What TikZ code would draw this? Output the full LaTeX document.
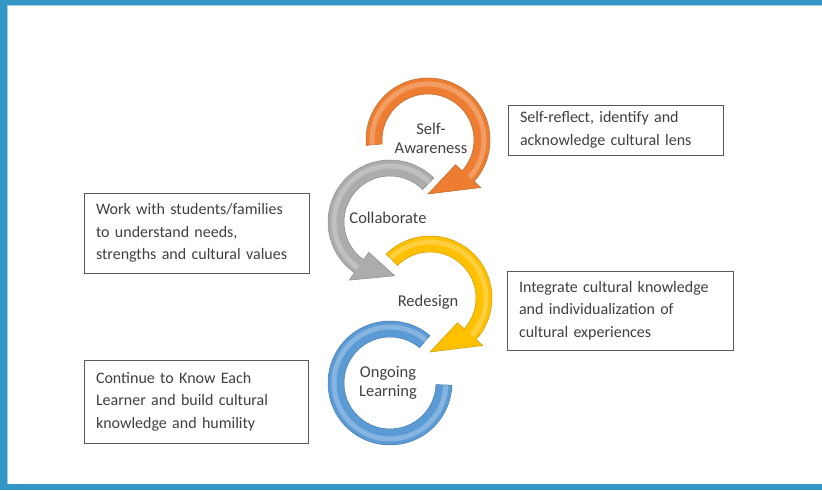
\documentclass[tikz,border=0pt]{standalone}
\usepackage{fontspec}
\setmainfont{Carlito}
\usepackage{tikz}
\usetikzlibrary{
    positioning,
    calc
}
\definecolor{frameBlue}{RGB}{52, 150, 197}
\definecolor{cycOrange}{RGB}{237, 125, 49}
\definecolor{cycGray}{RGB}{172, 172, 172}
\definecolor{cycYellow}{RGB}{255, 192, 0}
\definecolor{cycBlue}{RGB}{91, 155, 213}
\definecolor{textGray}{RGB}{64, 64, 64}

% center, tail angle, head base angle, tip angle, colour
\newcommand{\cyclearrow}[5]{%
    \path[fill=#5, draw=#5!80!black, line width=0.5pt]
        ($(#1)+(#2:62pt)$) arc[start angle=#2, end angle=#3, radius=62pt]
        -- ($(#1)+(#3:71pt)$) -- ($(#1)+(#4:54pt)$) -- ($(#1)+(#3:37pt)$)
        -- ($(#1)+(#3:46pt)$) arc[start angle=#3, end angle=#2, radius=46pt] -- cycle;
    \draw[white, opacity=0.25, line width=5pt]
        ($(#1)+(#2:56pt)$) arc[start angle=#2, end angle=#3, radius=56pt];
}
% center, tail angle, end angle, colour
\newcommand{\cycleband}[4]{%
    \path[fill=#4, draw=#4!80!black, line width=0.5pt]
        ($(#1)+(#2:62pt)$) arc[start angle=#2, end angle=#3, radius=62pt]
        -- ($(#1)+(#3:46pt)$) arc[start angle=#3, end angle=#2, radius=46pt] -- cycle;
    \draw[white, opacity=0.25, line width=5pt]
        ($(#1)+(#2:56pt)$) arc[start angle=#2, end angle=#3, radius=56pt];
}

\tikzset{
    infobox/.style={draw=gray!70!black, line width=0.8pt, fill=white, align=left,
        text=textGray, font=\fontsize{16}{22.5}\selectfont, inner xsep=12pt, inner ysep=0pt},
    cyclabel/.style={align=center, text=textGray, font=\fontsize{16.5}{19}\selectfont}
}

\begin{document}
\begin{tikzpicture}[x=1pt, y=1pt]
            \useasboundingbox (0, 0) rectangle (822, 490);

            % frame
            \fill[frameBlue] (0, 0) rectangle (822, 6);
            \fill[frameBlue] (0, 485) rectangle (822, 490);
            \fill[frameBlue] (0, 0) rectangle (7, 490);
            \fill[frameBlue!45] (7, 484) rectangle (822, 485);
            \fill[frameBlue!45] (7, 6) rectangle (8, 484);

            \coordinate (S) at (428, 350);
            \coordinate (C) at (390, 268);
            \coordinate (R) at (430, 192);
            \coordinate (L) at (390, 107);

            % cycle arrows
            \cycleband{L}{50}{358}{cycBlue}
            \cyclearrow{R}{135}{-42}{-90}{cycYellow}
            \cyclearrow{C}{45}{235}{275}{cycGray}
            \cyclearrow{S}{185}{-42}{-90}{cycOrange}

            \node[cyclabel] (self) at (431, 352) {Self-\\Awareness};
            \node[cyclabel] (collab) at (388, 272) {Collaborate};
            \node[cyclabel] (redesign) at (428, 188) {Redesign};
            \node[cyclabel] (ongoing) at (388, 107) {Ongoing\\Learning};

            % text boxes
            \node[infobox, text width=191pt, minimum height=50pt] (reflect) at (615.5, 360)
                {Self-reflect, identify and\\acknowledge cultural lens};
            \node[infobox, text width=201pt, minimum height=80pt] (families) at (196.5, 257)
                {Work with students/families\\to understand needs,\\strengths and cultural values};
            \node[infobox, text width=202pt, minimum height=79pt] (integrate) at (620, 179.5)
                {Integrate cultural knowledge\\and individualization of\\cultural experiences};
            \node[infobox, text width=200pt, minimum height=83pt] (learner) at (196, 88.5)
                {Continue to Know Each\\Learner and build cultural\\knowledge and humility};
        \end{tikzpicture}
\end{document}
